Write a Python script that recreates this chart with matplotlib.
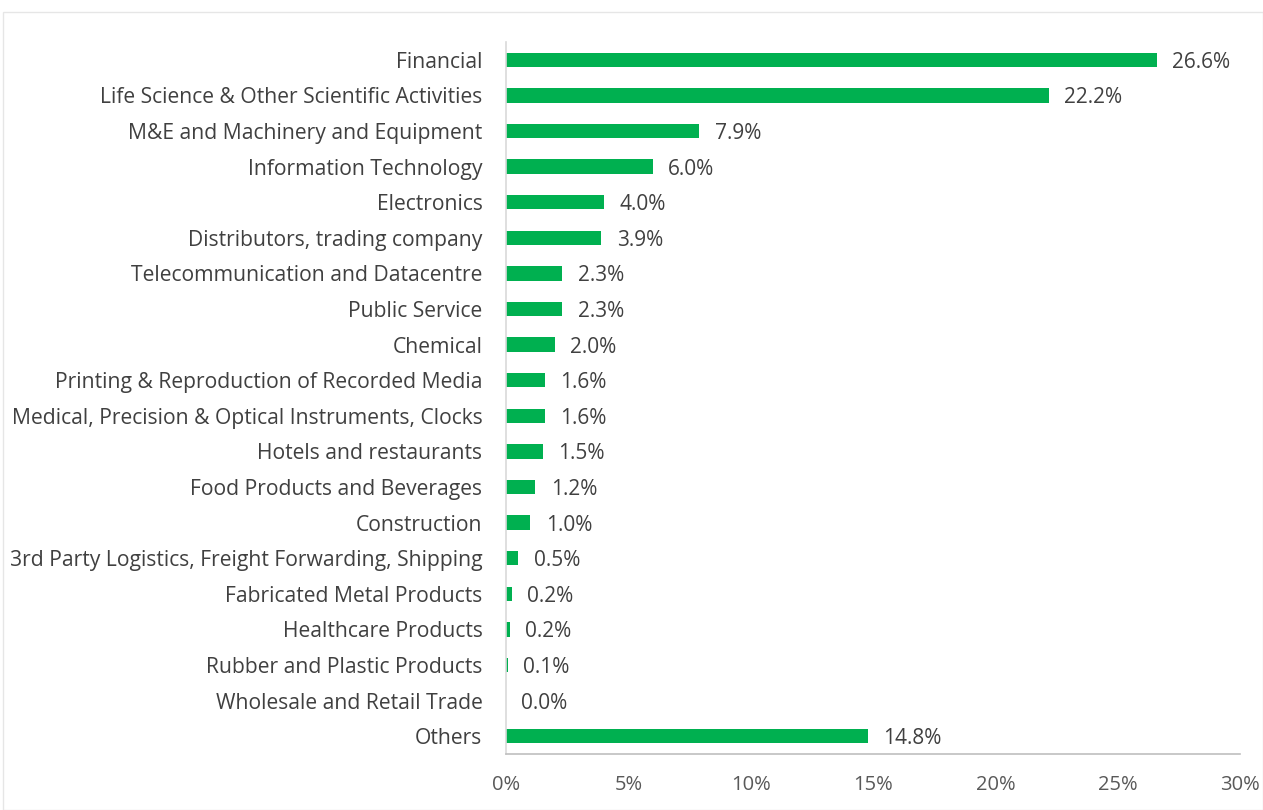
import matplotlib.pyplot as plt
from matplotlib.patches import Rectangle
from matplotlib.ticker import FuncFormatter

plt.rcParams['font.family'] = ['Open Sans', 'DejaVu Sans']

categories = [
    "Financial",
    "Life Science & Other Scientific Activities",
    "M&E and Machinery and Equipment",
    "Information Technology",
    "Electronics",
    "Distributors, trading company",
    "Telecommunication and Datacentre",
    "Public Service",
    "Chemical",
    "Printing & Reproduction of Recorded Media",
    "Medical, Precision & Optical Instruments, Clocks",
    "Hotels and restaurants",
    "Food Products and Beverages",
    "Construction",
    "3rd Party Logistics, Freight Forwarding, Shipping",
    "Fabricated Metal Products",
    "Healthcare Products",
    "Rubber and Plastic Products",
    "Wholesale and Retail Trade",
    "Others",
]
shares = [26.6, 22.2, 7.9, 6.0, 4.0, 3.9, 2.3, 2.3, 2.0, 1.6,
          1.6, 1.5, 1.2, 1.0, 0.5, 0.24, 0.16, 0.08, 0.0, 14.8]

green = "#00B050"
label_color = "#404040"
tick_color = "#595959"

fig = plt.figure(figsize=(12.63, 8.10), dpi=100)
ax = fig.add_axes([506 / 1263, 1 - 754 / 810, (1240 - 506) / 1263, (754 - 42) / 810])

y = list(range(len(categories)))
ax.barh(y, shares, height=0.4, color=green)
ax.set_ylim(len(categories) - 0.5, -0.5)
ax.set_xlim(0, 30)

for yi, v in zip(y, shares):
    ax.annotate(f"{v:.1f}%", xy=(v, yi), xytext=(11, 0), textcoords="offset points",
                va="center_baseline", ha="left", fontsize=15, color=label_color)

ax.set_yticks(y)
ax.set_yticklabels(categories, fontsize=15.2, color=label_color)
ax.set_xticks(range(0, 31, 5))
ax.xaxis.set_major_formatter(FuncFormatter(lambda v, p: f"{v:.0f}%"))
ax.tick_params(axis="x", labelsize=14.5, colors=tick_color, length=0, pad=15)
ax.tick_params(axis="y", length=0, pad=17)

for side in ["top", "right"]:
    ax.spines[side].set_visible(False)
ax.spines["left"].set_color("#D9D9D9")
ax.spines["bottom"].set_color("#BFBFBF")
ax.spines["left"].set_linewidth(1.2)
ax.spines["bottom"].set_linewidth(1.2)

# light outer frame of the chart area
fig.patches.append(Rectangle((3 / 1263, 0), 1 - 3 / 1263, 1 - 12 / 810, transform=fig.transFigure,
                             fill=False, edgecolor="#E6E6E6", linewidth=1))

fig.savefig("out.png", dpi=100)
